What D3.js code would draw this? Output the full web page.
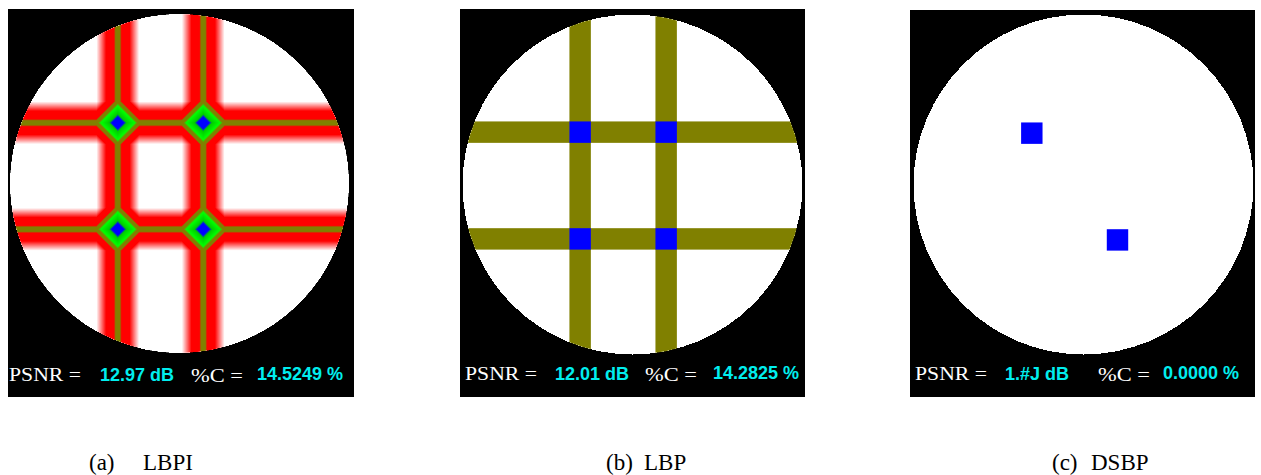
<!DOCTYPE html>
<html>
<head>
<meta charset="utf-8">
<script src="https://cdn.jsdelivr.net/npm/d3@7"></script>
<style>
  html, body { margin: 0; padding: 0; background: #ffffff; }
  svg { display: block; }
</style>
</head>
<body>
<svg id="fig" width="1261" height="475"></svg>
<script>
// ---- data (sensing field in 0..100 units, disc inscribed in the field) ----
const methods   = ["LBPI", "LBP", "DSBP"];
const tags      = ["(a)", "(b)", "(c)"];
const psnrText  = ["12.97 dB", "12.01 dB", "1.#J dB"];
const coverText = ["14.5249 %", "14.2825 %", "0.0000 %"];

// LBPI: barrier centre lines (blurred intensity map)
const lbpiCols = [31.8, 57.0];
const lbpiRows = [32.1, 63.5];
// LBP: barrier strips
const lbpCols = [34.6, 59.9];
const lbpRows = [34.6, 66.0];
// DSBP: detected sensor cells
const dsbpX = [34.8, 60.0];
const dsbpY = [34.9, 66.3];

const stripWidth = 6.3;   // field units
const glowReach  = 6.3;   // field units, LBPI falloff

// ---- layout ----
const frames = [
  { x: 8,   y: 9, w: 346, h: 388, cx: 179.5,  cy: 183.5, r: 169.5, tx: [9, 100, 191, 257],     base: 381 },
  { x: 460, y: 9, w: 345, h: 388, cx: 632.5,  cy: 184.5, r: 170,   tx: [465, 555, 645, 713],   base: 380 },
  { x: 910, y: 10, w: 345, h: 387, cx: 1083.5, cy: 184.5, r: 170,  tx: [915, 1005, 1098, 1163], base: 380 }
];
// caption: tag x, method-name x, baseline
const captionPos = [[89, 143, 470], [606, 644, 470], [1052, 1091, 470]];

const svg = d3.select("#fig");
const defs = svg.append("defs");

const OLIVE = "#808000", BLUE = "#0000ff", CYAN = "#00eeee";

// LBPI intensity -> colour
const heat = d3.scaleLinear()
  .domain([0, 0.45, 0.82, 0.9, 1.07, 1.2, 1.58, 1.72, 2])
  .range(["#ffffff", "#ff0000", "#ff0000", OLIVE, OLIVE, "#00ff00", "#00cc00", BLUE, BLUE])
  .interpolate(d3.interpolateRgb)
  .clamp(true);

frames.forEach((f, i) => {
  const g = svg.append("g").attr("class", "panel-" + methods[i]);
  g.append("rect").attr("x", f.x).attr("y", f.y).attr("width", f.w).attr("height", f.h).attr("fill", "#000");

  const xs = d3.scaleLinear().domain([0, 100]).range([f.cx - f.r, f.cx + f.r]);
  const ys = d3.scaleLinear().domain([0, 100]).range([f.cy - f.r, f.cy + f.r]);

  const clipId = "disc" + i;
  defs.append("clipPath").attr("id", clipId)
    .append("circle").attr("cx", xs(50)).attr("cy", ys(50)).attr("r", xs(100) - xs(50));

  g.append("circle")
    .attr("cx", xs(50)).attr("cy", ys(50)).attr("r", xs(100) - xs(50))
    .attr("fill", "#fff").attr("shape-rendering", "crispEdges");

  const inner = g.append("g").attr("clip-path", `url(#${clipId})`);

  if (i === 0) {
    // rasterised intensity map
    const x0 = Math.floor(xs(0)), y0 = Math.floor(ys(0));
    const W = Math.ceil(xs(100)) - x0, H = Math.ceil(ys(100)) - y0;
    const cv = document.createElement("canvas");
    cv.width = W; cv.height = H;
    const ctx = cv.getContext("2d");
    const img = ctx.createImageData(W, H);
    const reach = xs(glowReach) - xs(0);
    const tent = d => Math.max(0, 1 - d / reach);
    const colPx = lbpiCols.map(xs), rowPx = lbpiRows.map(ys);
    for (let j = 0; j < H; j++) {
      const py = y0 + j + 0.5;
      const dy = d3.min(rowPx, r => Math.abs(py - r));
      for (let k = 0; k < W; k++) {
        const px = x0 + k + 0.5;
        const u = xs.invert(px) - 50, v = ys.invert(py) - 50;
        const idx = (j * W + k) * 4;
        if (u * u + v * v > 2500) { img.data[idx + 3] = 0; continue; }
        const dx = d3.min(colPx, c => Math.abs(px - c));
        const c = d3.rgb(heat(tent(dx) + tent(dy)));
        img.data[idx] = c.r; img.data[idx + 1] = c.g; img.data[idx + 2] = c.b; img.data[idx + 3] = 255;
      }
    }
    ctx.putImageData(img, 0, 0);
    inner.append("image")
      .attr("x", x0).attr("y", y0).attr("width", W).attr("height", H)
      .attr("href", cv.toDataURL())
      .style("image-rendering", "pixelated");
  } else if (i === 1) {
    const sw = xs(stripWidth) - xs(0);
    inner.selectAll("rect.col").data(lbpCols).join("rect").attr("class", "col")
      .attr("x", d => xs(d) - sw / 2).attr("y", ys(0)).attr("width", sw).attr("height", ys(100) - ys(0))
      .attr("fill", OLIVE);
    inner.selectAll("rect.row").data(lbpRows).join("rect").attr("class", "row")
      .attr("x", xs(0)).attr("y", d => ys(d) - sw / 2).attr("width", xs(100) - xs(0)).attr("height", sw)
      .attr("fill", OLIVE);
    const cross = d3.cross(lbpCols, lbpRows);
    inner.selectAll("rect.node").data(cross).join("rect").attr("class", "node")
      .attr("x", d => xs(d[0]) - sw / 2).attr("y", d => ys(d[1]) - sw / 2)
      .attr("width", sw).attr("height", sw).attr("fill", BLUE);
  } else {
    const sw = xs(stripWidth) - xs(0);
    inner.selectAll("rect.node").data(d3.zip(dsbpX, dsbpY)).join("rect").attr("class", "node")
      .attr("x", d => xs(d[0]) - sw / 2).attr("y", d => ys(d[1]) - sw / 2)
      .attr("width", sw).attr("height", sw).attr("fill", BLUE);
  }

  // readouts
  const serifFamily = "'Liberation Serif', 'Times New Roman', serif";
  const sansFamily = "'Liberation Sans', Arial, sans-serif";
  g.append("text").attr("x", f.tx[0]).attr("y", f.base)
    .attr("font-family", serifFamily).attr("font-size", 18).attr("fill", "#fff")
    .attr("textLength", 72).attr("lengthAdjust", "spacingAndGlyphs").text("PSNR =");
  g.append("text").attr("x", f.tx[1]).attr("y", f.base)
    .attr("font-family", sansFamily).attr("font-weight", "bold")
    .attr("font-size", 18).attr("fill", CYAN).text(psnrText[i]);
  g.append("text").attr("x", f.tx[2]).attr("y", f.base + 1)
    .attr("font-family", serifFamily).attr("font-size", 18).attr("fill", "#fff")
    .attr("textLength", 52).attr("lengthAdjust", "spacingAndGlyphs").text("%C =");
  g.append("text").attr("x", f.tx[3]).attr("y", f.base - 1)
    .attr("font-family", sansFamily).attr("font-weight", "bold")
    .attr("font-size", 18).attr("fill", CYAN).text(coverText[i]);

  // caption under the panel
  const cap = svg.append("text").attr("y", captionPos[i][2])
    .attr("font-family", serifFamily).attr("font-size", 23).attr("fill", "#000");
  cap.append("tspan").attr("x", captionPos[i][0]).text(tags[i]);
  cap.append("tspan").attr("x", captionPos[i][1]).text(methods[i]);
});
</script>
</body>
</html>
